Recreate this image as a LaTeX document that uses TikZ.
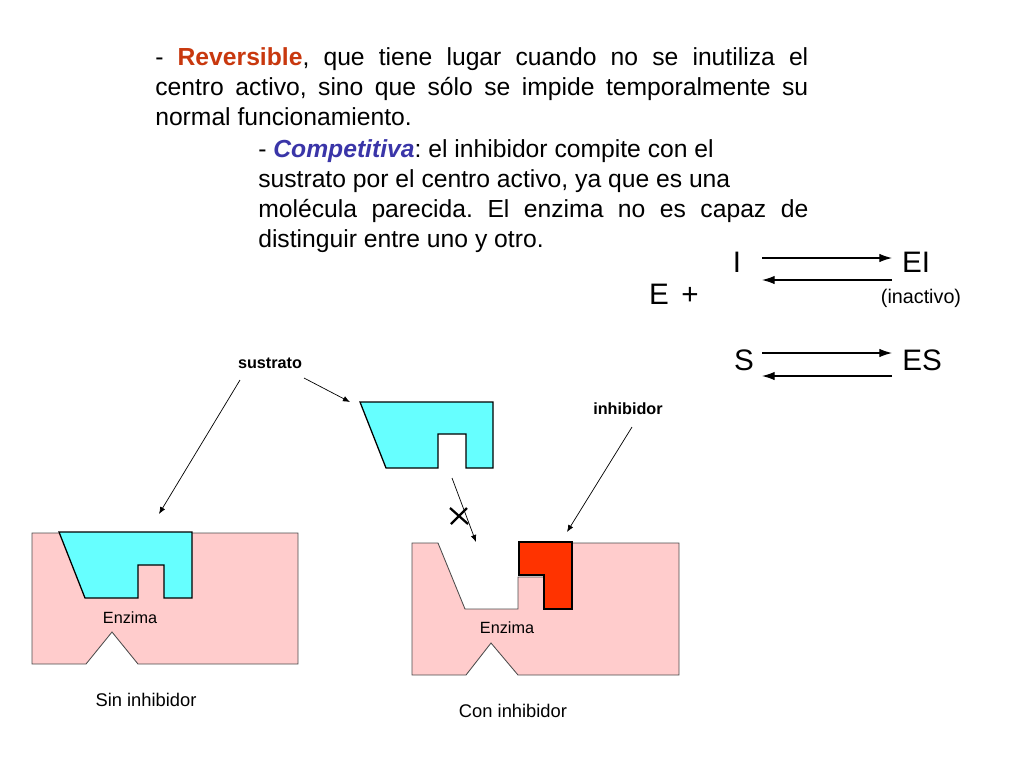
\documentclass[tikz,border=0pt]{standalone}
\usepackage{fontspec}
\setmainfont{Liberation Sans}
\usetikzlibrary{arrows.meta}
\definecolor{sustcol}{HTML}{66FFFF}
\definecolor{enzcol}{HTML}{FFCCCC}
\definecolor{inhcol}{HTML}{FF3300}
\definecolor{revcol}{HTML}{C8380E}
\definecolor{compcol}{HTML}{3A35A8}
\frenchspacing
\newcommand\nohyphens{\hyphenpenalty=10000\relax\exhyphenpenalty=10000\relax}
\tikzset{>={Latex[length=5pt,width=4pt]},
  enzyme/.style={fill=enzcol,draw=black!70,line width=0.6pt},
  substrate/.style={fill=sustcol,draw=black,line width=0.9pt},
  inhib/.style={fill=inhcol,draw=black,line width=0.9pt},
  pointer/.style={->,line width=0.5pt},
  eqarrow/.style={-{Latex[length=9pt,width=6pt]},line width=0.8pt},
  label/.style={font=\fontsize{11.5}{12}\selectfont\bfseries,inner sep=0pt},
  caption/.style={font=\fontsize{13}{14}\selectfont,inner sep=0pt},
  chem/.style={font=\fontsize{21}{22}\selectfont,inner sep=0pt},
  para/.style={anchor=north west,inner sep=0pt,align=justify,
    font=\fontsize{17.5}{21.3}\selectfont}}
\begin{document}
\begin{tikzpicture}[x=0.709pt,y=-0.709pt]
	\useasboundingbox (0,0) rectangle (1024,768);
	% text
	\node [para,text width=463pt] (rev) at (155,47)
		{\nohyphens- \textbf{\color{revcol}Reversible}, que tiene lugar cuando no se inutiliza el\linebreak
		centro activo, sino que sólo se impide temporalmente su\linebreak normal funcionamiento.};
	\node [para,text width=390pt] (comp) at (258,139)
		{\nohyphens- \textbf{\textit{\color{compcol}Competitiva}}: el inhibidor compite con el\\
		sustrato por el centro activo, ya que es una\\
		molécula parecida. El enzima no es capaz de\linebreak distinguir entre uno y otro.};

	% equations
	\node [chem] (E) at (659,294) {E};
	\node [chem] (plus) at (690,296) {+};
	\node [chem] (I) at (737,262) {I};
	\node [chem] (EI) at (916,262) {EI};
	\node [caption,font=\fontsize{14}{15}\selectfont] (inact) at (921,298) {(inactivo)};
	\node [chem] (S) at (744,360) {S};
	\node [chem] (ES) at (922,360) {ES};
	\coordinate (a1) at (762,258); \coordinate (a2) at (892,258);
	\coordinate (b1) at (892,280); \coordinate (b2) at (762,280);
	\coordinate (c1) at (762,353); \coordinate (c2) at (892,353);
	\coordinate (d1) at (892,376); \coordinate (d2) at (762,376);
	\draw [eqarrow] (a1) -- (a2);
	\draw [eqarrow] (b1) -- (b2);
	\draw [eqarrow] (c1) -- (c2);
	\draw [eqarrow] (d1) -- (d2);

	% sin inhibidor
	\draw [enzyme] (32,533) -- (298,533) -- (298,664) -- (138,664) -- (112,632) -- (86,664) -- (32,664) -- cycle;
	\draw [substrate] (59,532) -- (192,532) -- (192,598) -- (164,598) -- (164,565) -- (138,565) -- (138,598) -- (85,598) -- cycle;
	\node [caption,font=\fontsize{11.5}{12}\selectfont] (enz1) at (130,618) {Enzima};
	\node [caption] (sin) at (146,700) {Sin inhibidor};

	% sustrato libre
	\draw [substrate] (360,402) -- (493,402) -- (493,468) -- (466,468) -- (466,434) -- (438,434) -- (438,468) -- (386,468) -- cycle;
	\node [label] (sust) at (270,363) {sustrato};
	\coordinate (s1) at (240,380); \coordinate (s2) at (159,514);
	\coordinate (s3) at (304,378); \coordinate (s4) at (350,402);
	\draw [pointer] (s1) -- (s2);
	\draw [pointer] (s3) -- (s4);

	% con inhibidor
	\draw [enzyme] (412,543) -- (438,543) -- (465,609) -- (518,609) -- (518,577) -- (544,577) -- (544,609) -- (572,609) -- (572,543) -- (679,543) -- (679,675) -- (518,675) -- (491,643) -- (466,675) -- (412,675) -- cycle;
	\draw [inhib] (519,542) -- (572,542) -- (572,609) -- (544,609) -- (544,575) -- (519,575) -- cycle;
	\node [caption,font=\fontsize{11.5}{12}\selectfont] (enz2) at (507,628) {Enzima};
	\node [caption] (con) at (513,711) {Con inhibidor};
	\node [label] (inh) at (628,409) {inhibidor};
	\coordinate (i1) at (632,427); \coordinate (i2) at (567,532);
	\draw [pointer] (i1) -- (i2);
	\coordinate (x1) at (452,478); \coordinate (x2) at (476,542);
	\draw [pointer] (x1) -- (x2);
	% the cross on the blocked path
	\coordinate (cross) at (459,516);
	\draw [line width=1.6pt] ([shift={(-9,-8)}]cross) -- ([shift={(9,8)}]cross)
		([shift={(-8,8)}]cross) -- ([shift={(8,-8)}]cross);
\end{tikzpicture}
\end{document}
